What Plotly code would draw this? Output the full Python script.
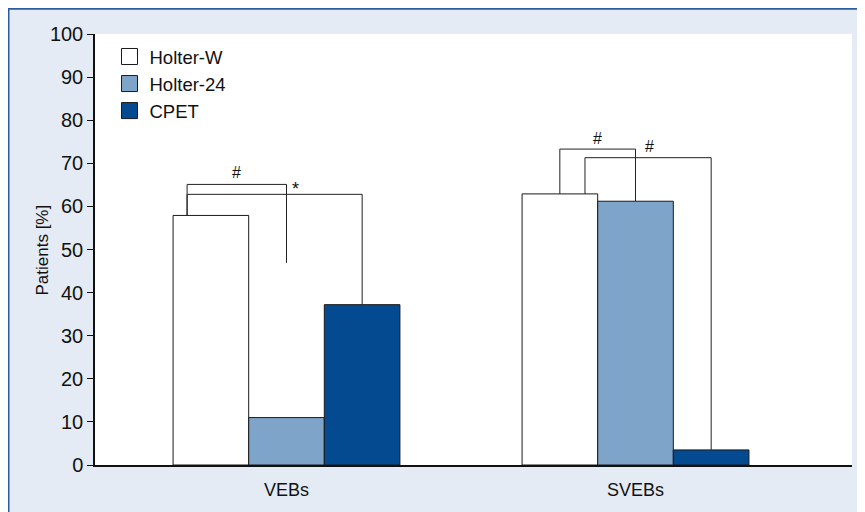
import plotly.graph_objects as go

categories = ["VEBs", "SVEBs"]
cat_pos = [0, 1]
series_names = ["Holter-W", "Holter-24", "CPET"]
holter_w = [57.9, 62.9]
holter_24 = [11.0, 61.2]
cpet = [37.2, 3.5]
colors = ["#ffffff", "#7fa4c9", "#034a91"]
y_ticks = list(range(0, 101, 10))
y_title = "Patients [%]"

FONT = "Liberation Sans, Arial, sans-serif"
BAR_W = 0.2168

fig = go.Figure()
for name, vals, col in zip(series_names, [holter_w, holter_24, cpet], colors):
    fig.add_trace(go.Bar(
        name=name, x=cat_pos, y=vals, showlegend=False,
        marker=dict(color=col, line=dict(color="#1a1a1a", width=1)),
    ))
# legend entries with larger square keys
for name, col in zip(series_names, colors):
    fig.add_trace(go.Scatter(
        name=name, x=[None], y=[None], mode="markers",
        marker=dict(symbol="square", size=16, color=col, line=dict(color="#1a1a1a", width=1)),
    ))

# significance brackets (positions derived from bar centres)
def cx(cat, idx):
    return cat_pos[cat] + (idx - 1) * BAR_W

line = dict(color="#222222", width=1)
def bracket(x0, x1, ytop, y0, y1, label, lx, ly, size=16):
    pts = [(x0, y0), (x0, ytop), (x1, ytop), (x1, y1)]
    path = "M " + " L ".join(f"{x},{y}" for x, y in pts)
    fig.add_shape(type="path", path=path, line=line, xref="x", yref="y", layer="above")
    fig.add_annotation(x=lx, y=ly, text=label, showarrow=False, xref="x", yref="y",
                       font=dict(family=FONT, size=size, color="#111111"))

# VEBs
bracket(cx(0, 0) - 0.068, cx(0, 1), 65.1, holter_w[0], 46.9, "#",
        (cx(0, 0) - 0.068 + cx(0, 1)) / 2, 67.8)
bracket(cx(0, 0) - 0.068, cx(0, 2), 62.8, holter_w[0], cpet[0], "*",
        cx(0, 1) + 0.027, 64.0, size=18)
# SVEBs
bracket(cx(1, 0), cx(1, 1), 73.3, holter_w[1], holter_24[1], "#",
        (cx(1, 0) + cx(1, 1)) / 2, 75.8)
bracket(cx(1, 0) + 0.072, cx(1, 2), 71.3, holter_w[1], cpet[1], "#",
        cx(1, 1) + 0.04, 73.8)

# frame lines (figure decoration); figure origin sits 8px into the page
L, T, R, B = 87, 26, 13, 43
W, H = 857, 504
pw, ph = W - L - R, H - T - B
def xp(px): return (px - L) / pw
def yp(py): return 1 - (py - T) / ph
fc = "#2b5c9c"
fig.add_shape(type="line", xref="paper", yref="paper", x0=xp(0.5), x1=xp(0.5),
              y0=yp(0), y1=yp(H + 5), line=dict(color=fc, width=2))
fig.add_shape(type="line", xref="paper", yref="paper", x0=xp(0), x1=xp(W + 5),
              y0=yp(0.5), y1=yp(0.5), line=dict(color=fc, width=2))

# y-axis title
fig.add_annotation(text=y_title, textangle=-90, showarrow=False, xref="paper", yref="paper",
                   x=xp(34), y=0.5, xanchor="center", yanchor="middle",
                   font=dict(family=FONT, size=17, color="#111111"))

fig.update_layout(
    width=W, height=H,
    margin=dict(l=L, r=R, t=T, b=B),
    paper_bgcolor="#e4ebf4", plot_bgcolor="#ffffff",
    barmode="group", bargap=0.35, bargroupgap=0,
    font=dict(family=FONT, size=18, color="#111111"),
    showlegend=True,
    legend=dict(x=xp(101.5), y=yp(30), xanchor="left", yanchor="top",
                bgcolor="rgba(0,0,0,0)", font=dict(family=FONT, size=18.5),
                tracegroupgap=0, itemwidth=30),
    xaxis=dict(range=[-0.5487, 1.6203], tickvals=cat_pos, ticktext=categories,
               showline=True, linecolor="#111111", linewidth=1.5, ticks="",
               showgrid=False, zeroline=False, tickfont=dict(size=18),
               ticklabelstandoff=8),
    yaxis=dict(range=[0, 100], tickvals=y_ticks, showline=True, linecolor="#111111",
               linewidth=1.5, ticks="outside", ticklen=6, tickcolor="#111111",
               showgrid=False, zeroline=False, tickfont=dict(size=20)),
)

fig.write_html("out.html")
